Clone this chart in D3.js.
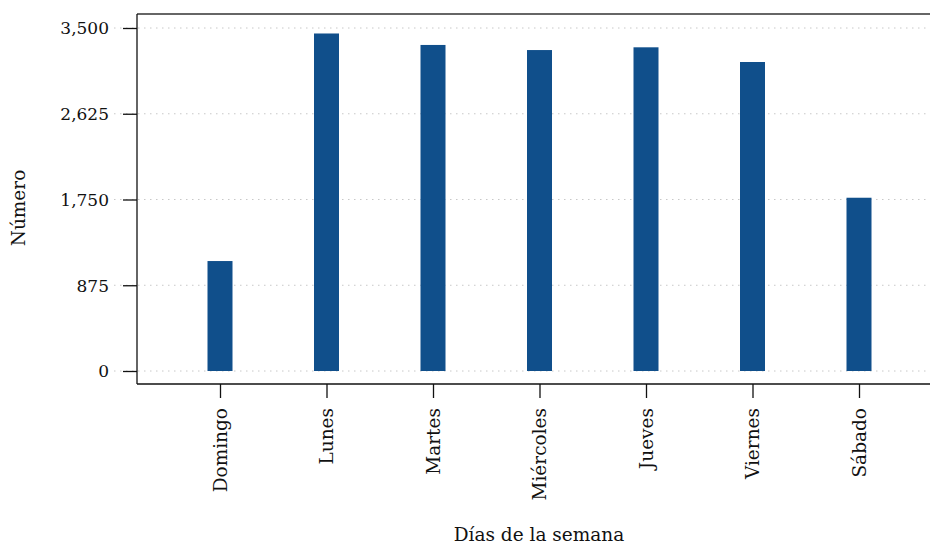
<!DOCTYPE html>
<html><head><meta charset="utf-8">
<script src="https://cdn.jsdelivr.net/npm/d3@7"></script>
<style>body{margin:0;background:#fff}svg{display:block}text{font-family:"DejaVu Serif",serif;fill:#111}</style>
</head><body><svg id="c" width="930" height="545"></svg>
<script>
const categories = ["Domingo","Lunes","Martes","Miércoles","Jueves","Viernes","Sábado"];
const values = [1122, 3444, 3327, 3275, 3303, 3153, 1768];
const yTicks = [0, 875, 1750, 2625, 3500];
const xTitle = "Días de la semana";
const yTitle = "Número";

const svg = d3.select("#c");
const mLeft = 137, mTop = 14, mBottom = 384, mRight = 930;
const FS = 18.5, FSY = 17;
const x = d3.scalePoint().domain(categories).range([220, 859]);
const y = d3.scaleLinear().domain([0, 3500]).range([371, 28]);
const fmt = d3.format(",");

// gridlines
svg.append("g").selectAll("line").data(yTicks).join("line")
  .attr("x1", 114).attr("x2", mRight).attr("y1", d => y(d)).attr("y2", d => y(d))
  .attr("stroke", "#c8c8c8").attr("stroke-width", 1).attr("stroke-dasharray", "1.5,4.5");

// bars
svg.append("g").selectAll("rect").data(values).join("rect")
  .attr("x", (d, i) => x(categories[i]) - 12.5).attr("width", 25)
  .attr("y", d => y(d)).attr("height", d => y(0) - y(d))
  .attr("fill", "#104f8b");

// frame
svg.append("line").attr("x1", mLeft).attr("x2", mRight).attr("y1", mTop).attr("y2", mTop).attr("stroke", "#333").attr("stroke-width", 1.3);
svg.append("line").attr("x1", mLeft).attr("x2", mRight).attr("y1", mBottom).attr("y2", mBottom).attr("stroke", "#111").attr("stroke-width", 1.3);
svg.append("line").attr("x1", mLeft).attr("x2", mLeft).attr("y1", mTop).attr("y2", mBottom).attr("stroke", "#111").attr("stroke-width", 1.3);

// y axis
const ya = svg.append("g").attr("transform", `translate(${mLeft},0)`)
  .call(d3.axisLeft(y).tickValues(yTicks).tickFormat(fmt).tickSize(14).tickPadding(14));
ya.select(".domain").remove();
ya.selectAll(".tick line").attr("stroke", "#111").attr("stroke-width", 1.3);
ya.selectAll(".tick text").attr("font-size", FSY).attr("font-family", "DejaVu Serif").attr("fill", "#111").attr("dy", "0.35em");

// x axis
const xa = svg.append("g").attr("transform", `translate(0,${mBottom})`)
  .call(d3.axisBottom(x).tickSize(14).tickPadding(0));
xa.select(".domain").remove();
xa.selectAll(".tick line").attr("stroke", "#111").attr("stroke-width", 1.3);
xa.selectAll(".tick text").attr("font-size", FS).attr("font-family", "DejaVu Serif").attr("fill", "#111")
  .attr("text-anchor", "end").attr("dy", "0.35em")
  .attr("transform", "translate(0,24) rotate(-90)").attr("x", 0).attr("y", 0);

svg.append("text").attr("x", 539).attr("y", 541).attr("text-anchor", "middle").attr("font-size", FS).text(xTitle);
svg.append("text").attr("transform", "translate(25,208) rotate(-90)").attr("text-anchor", "middle").attr("font-size", FS).text(yTitle);
</script></body></html>
